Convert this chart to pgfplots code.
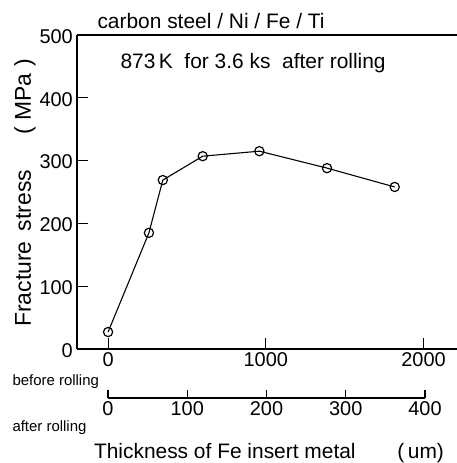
\documentclass[border=0pt]{standalone}
\usepackage{pgfplots}
\pgfplotsset{compat=1.18}
\usepackage{fontspec}
\setmainfont{Liberation Sans}

\begin{document}
\begin{tikzpicture}[x=1bp,y=1bp]
\useasboundingbox (0,0) rectangle (457,463);

% main axis: fracture stress vs. thickness before rolling
\begin{axis}[
  at={(77bp,114bp)}, anchor=south west,
  scale only axis, width=380bp, height=314bp,
  xmin=-197, xmax=2212, ymin=0, ymax=500,
  axis lines*=left,
  axis line style={line width=1.1pt},
  xtick={0,1000,2000}, ytick={0,100,200,300,400,500},
  tick align=inside,
  major tick length=11bp,
  tick style={line width=1.1pt, black},
  /pgf/number format/assume math mode=true,
  /pgf/number format/1000 sep={},
  ticklabel style={font=\fontsize{20}{23}\selectfont},
  xticklabel style={inner sep=3.5bp},
  yticklabel style={inner sep=4bp, yshift=-1.5bp},
  clip=false,
]
\addplot[black, line width=1.1pt, mark=o, mark size=4.6bp,
  mark options={fill=white, line width=1.2pt}]
  coordinates {
    (0,27) (259,185) (347,269) (600,307) (959,315) (1388,288) (1817,258)
  };
\draw[line width=1.1pt] (rel axis cs:0,1) -- (rel axis cs:1,1);
\end{axis}

% secondary scale: thickness after rolling
\begin{axis}[
  at={(108bp,65bp)}, anchor=south west,
  scale only axis, width=317bp, height=10bp,
  xmin=0, xmax=400, ymin=0, ymax=1,
  axis x line*=bottom, hide y axis,
  axis line style={line width=1.1pt},
  xtick={0,100,200,300,400},
  tick align=inside,
  major tick length=8bp,
  tick style={line width=1.1pt, black},
  /pgf/number format/assume math mode=true,
  ticklabel style={font=\fontsize{20}{23}\selectfont},
  xticklabel style={inner sep=3.5bp},
]
\end{axis}

\node[anchor=west, font=\fontsize{21}{25}\selectfont] at (94,442) {carbon steel\ /\ Ni\ /\ Fe\ /\ Ti};
\node[anchor=west, font=\fontsize{21}{25}\selectfont] at (117,400) {873\,K\ \ for 3.6 ks\ \ after rolling};
\node[rotate=90, font=\fontsize{23}{27}\selectfont] at (25,270) {Fracture\ \,stress\quad\ \ (\ MPa\ )};
\node[anchor=west, font=\fontsize{15}{18}\selectfont] at (9,81) {before rolling};
\node[anchor=west, font=\fontsize{15}{18}\selectfont] at (9,35) {after rolling};
\node[font=\fontsize{21}{25}\selectfont] at (269,10) {Thickness of Fe insert metal\qquad(\,um)};
\end{tikzpicture}
\end{document}
